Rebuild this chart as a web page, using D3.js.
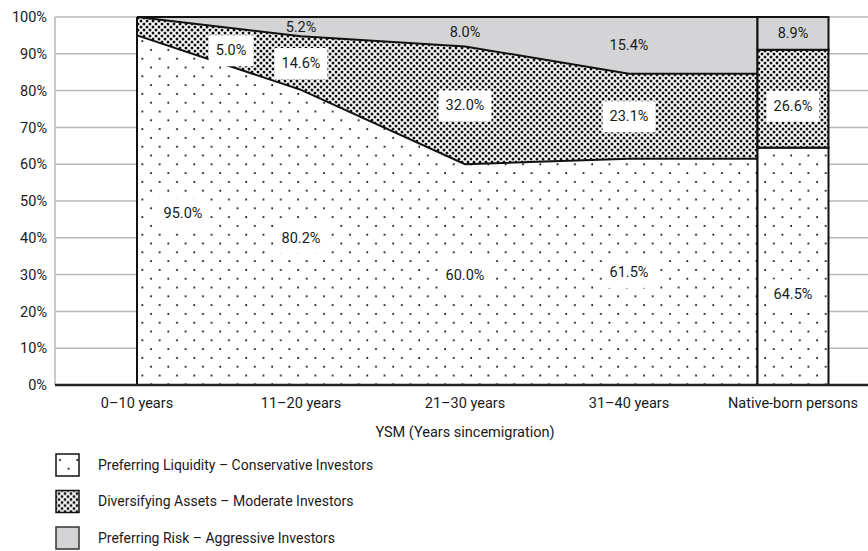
<!DOCTYPE html>
<html>
<head>
<meta charset="utf-8">
<script src="https://cdn.jsdelivr.net/npm/d3@7"></script>
<style>
  html, body { margin: 0; padding: 0; background: #fff; }
  svg text { font-family: Roboto, "Liberation Sans", sans-serif; fill: #1a1a1a; }
</style>
</head>
<body>
<svg id="chart"></svg>
<script>
// categories on the x axis
const categories = ['0–10 years', '11–20 years', '21–30 years', '31–40 years', 'Native-born persons'];
// shares in percent, one array per investor type
const conservative = [95.0, 80.2, 60.0, 61.5, 64.5];
const moderate = [5.0, 14.6, 32.0, 23.1, 26.6];
const aggressive = [0, 5.2, 8.0, 15.4, 8.9];
const yTicks = [0, 10, 20, 30, 40, 50, 60, 70, 80, 90, 100];
const seriesNames = [
  'Preferring Liquidity – Conservative Investors',
  'Diversifying Assets – Moderate Investors',
  'Preferring Risk – Aggressive Investors'
];
const axisTitle = 'YSM (Years sincemigration)';

const W = 868, H = 551;
const margin = { top: 17, left: 55, bottom: 166 };
const keys = ['conservative', 'moderate', 'aggressive'];
const fontSize = '14.5px';

const rows = categories.map((c, i) => ({
  cat: c, conservative: conservative[i], moderate: moderate[i], aggressive: aggressive[i]
}));

const svg = d3.select('#chart').attr('width', W).attr('height', H);

const x = d3.scalePoint().domain(categories).range([margin.left, 875]).padding(0.5);
const y = d3.scaleLinear().domain([0, 100]).range([H - margin.bottom, margin.top]);
const barW = 71;

// patterns
const defs = svg.append('defs');
const dots = defs.append('pattern').attr('id', 'dots')
  .attr('patternUnits', 'userSpaceOnUse').attr('width', 17.3).attr('height', 17.6)
  .attr('x', 0).attr('y', 2);
dots.append('rect').attr('width', 17.3).attr('height', 17.6).attr('fill', '#fff');
dots.append('circle').attr('cx', 4).attr('cy', 4).attr('r', 1).attr('fill', '#000');
dots.append('circle').attr('cx', 12.65).attr('cy', 12.8).attr('r', 1).attr('fill', '#000');

const cross = defs.append('pattern').attr('id', 'cross')
  .attr('patternUnits', 'userSpaceOnUse').attr('width', 6).attr('height', 6);
cross.append('rect').attr('width', 6).attr('height', 6).attr('fill', '#fff');
[[0, 0], [6, 0], [0, 6], [6, 6], [3, 3]].forEach(p => {
  cross.append('circle').attr('cx', p[0]).attr('cy', p[1]).attr('r', 1.5).attr('fill', '#111');
});

const fills = { conservative: 'url(#dots)', moderate: 'url(#cross)', aggressive: '#d4d4d6' };

// grid
svg.append('g').selectAll('line').data(yTicks.filter(d => d > 0)).join('line')
  .attr('x1', margin.left).attr('x2', W)
  .attr('y1', d => y(d)).attr('y2', d => y(d))
  .attr('stroke', '#b8b8b8').attr('stroke-width', 1.5);
svg.append('line').attr('x1', margin.left).attr('x2', margin.left)
  .attr('y1', y(100)).attr('y2', y(0)).attr('stroke', '#b8b8b8').attr('stroke-width', 1.5);

// y axis labels
const yAxis = d3.axisLeft(y).tickValues(yTicks).tickFormat(d => d + '%').tickSize(0).tickPadding(8);
svg.append('g').attr('transform', `translate(${margin.left},0)`).call(yAxis)
  .call(g => g.select('.domain').remove())
  .selectAll('text').style('font-size', fontSize).style('font-family', null).attr('fill', '#1a1a1a');

// stacked area for the immigrant groups, carried flat up to the native-born bar
const stack = d3.stack().keys(keys);
const immigrantRows = rows.slice(0, 4).map(r => ({ ...r, px: x(r.cat) }));
const last = immigrantRows[immigrantRows.length - 1];
const nativeRow = rows[4];
immigrantRows.push({ ...last, px: x(nativeRow.cat) - barW / 2 });
const areaStack = stack(immigrantRows);

const area = d3.area().x(d => d.data.px).y0(d => y(d[0])).y1(d => y(d[1]));
svg.append('g').selectAll('path').data(areaStack).join('path')
  .attr('d', area).attr('fill', s => fills[s.key]);

const line = d3.line().x(d => d.data.px).y(d => y(d[1]));
svg.append('g').selectAll('path').data(areaStack).join('path')
  .attr('d', line).attr('fill', 'none').attr('stroke', '#111').attr('stroke-width', 2);
// outline of area
const x0 = immigrantRows[0].px, x1 = immigrantRows[immigrantRows.length - 1].px;
svg.append('path')
  .attr('d', `M${x0},${y(0)}V${y(100)}M${x1},${y(100)}V${y(0)}`)
  .attr('stroke', '#111').attr('stroke-width', 2).attr('fill', 'none');

// native-born bar
const nativeStack = stack([nativeRow]);
svg.append('g').selectAll('rect').data(nativeStack).join('rect')
  .attr('x', x(nativeRow.cat) - barW / 2).attr('width', barW)
  .attr('y', s => y(s[0][1])).attr('height', s => y(s[0][0]) - y(s[0][1]))
  .attr('fill', s => fills[s.key]).attr('stroke', '#111').attr('stroke-width', 2);

// x baseline
svg.append('line').attr('x1', margin.left).attr('x2', W)
  .attr('y1', y(0)).attr('y2', y(0)).attr('stroke', '#222').attr('stroke-width', 2.5);

// value labels
const nudge = {
  '0-conservative': [46, -3], '0-moderate': [94, -24],
  '4-conservative': [0, -28], '4-moderate': [0, -7]
};
const labels = [];
rows.forEach((r, i) => {
  const s = stack([r]);
  s.forEach(k => {
    const v = r[k.key];
    if (v <= 0) return;
    const n = nudge[i + '-' + k.key] || [0, 0];
    labels.push({
      text: v.toFixed(1) + '%', key: k.key,
      x: x(r.cat) + n[0], y: y((k[0][0] + k[0][1]) / 2) - n[1]
    });
  });
});
const lg = svg.append('g').selectAll('g').data(labels).join('g');
lg.append('rect');
lg.append('text').attr('x', d => d.x).attr('y', d => d.y).attr('dy', '0.35em')
  .attr('text-anchor', 'middle').style('font-size', fontSize).text(d => d.text);
lg.each(function (d) {
  const g = d3.select(this);
  const b = g.select('text').node().getBBox();
  g.select('rect').attr('x', b.x - 7).attr('y', b.y - 7)
    .attr('width', b.width + 14).attr('height', b.height + 14)
    .attr('fill', d.key === 'aggressive' ? 'none' : '#fff');
});

// x labels
svg.append('g').selectAll('text').data(categories).join('text')
  .attr('x', d => x(d)).attr('y', 408).attr('text-anchor', 'middle')
  .style('font-size', fontSize).text(d => d);
svg.append('text').attr('x', x(categories[2])).attr('y', 437).attr('text-anchor', 'middle')
  .style('font-size', fontSize).text(axisTitle);

// legend
const leg = svg.append('g').selectAll('g').data(keys).join('g')
  .attr('transform', (d, i) => `translate(56,${454 + i * 36.5})`);
leg.append('rect').attr('width', 23).attr('height', 22)
  .attr('fill', d => fills[d]).attr('stroke', d => d === 'aggressive' ? '#333' : '#111')
  .attr('stroke-width', 1.5);
leg.append('text').attr('x', 42).attr('y', 11).attr('dy', '0.35em')
  .style('font-size', '14px').text((d, i) => seriesNames[i]);
</script>
</body>
</html>
